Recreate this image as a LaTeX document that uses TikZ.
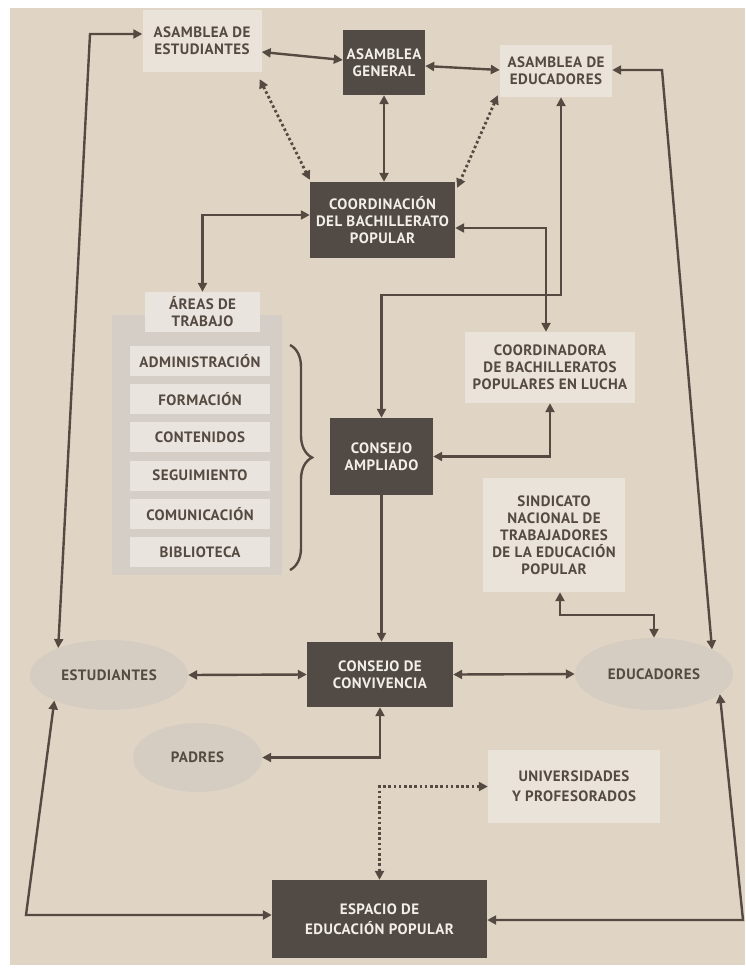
\documentclass[tikz,border=0pt]{standalone}
\usepackage{fontspec}
\setmainfont{PT Sans}[LetterSpace=3]
\usetikzlibrary{arrows.meta,calc,decorations.pathreplacing,shapes.geometric}
\definecolor{paper}{RGB}{224,213,197}
\definecolor{lightbox}{RGB}{233,227,217}
\definecolor{darkbox}{RGB}{82,74,68}
\definecolor{ink}{RGB}{84,74,65}
\definecolor{ovalfill}{RGB}{213,205,194}
\definecolor{panelfill}{RGB}{212,206,198}
\definecolor{subfill}{RGB}{233,228,221}
\definecolor{wtext}{RGB}{242,238,232}
\begin{document}
\begin{tikzpicture}[x=1pt,y=-1pt,
 >={Triangle[length=9pt,width=9pt]},
 lbl/.style={font=\bfseries\fontsize{15}{17}\selectfont, align=center, inner sep=0pt},
 lightnode/.style={lbl, rectangle, fill=lightbox, text=ink},
 darknode/.style={lbl, rectangle, fill=darkbox, text=wtext},
 oval/.style={lbl, ellipse, fill=ovalfill, text=ink},
 subnode/.style={lbl, rectangle, fill=subfill, text=ink, minimum width=140pt, minimum height=30pt},
 conn/.style={draw=ink, line width=2.4pt},
 both/.style={conn, <->},
 fwd/.style={conn, ->},
 dots/.style={draw=ink, line width=2.8pt, dash pattern=on 2.6pt off 2.6pt, <->}
]
\fill[white] (0,0) rectangle (745,971);
\fill[paper] (10,8) rectangle (745,965);
\useasboundingbox (0,0) rectangle (745,971);

% top row
\node[lightnode, minimum width=119pt, minimum height=62pt] (estA) at (202,41) {ASAMBLEA DE\\ESTUDIANTES};
\node[darknode, minimum width=82pt, minimum height=65pt] (genA) at (384,62.5) {ASAMBLEA\\GENERAL};
\node[lightnode, minimum width=112pt, minimum height=52pt] (eduA) at (556,71) {ASAMBLEA DE\\EDUCADORES};
\node[darknode, minimum width=145pt, minimum height=76pt] (coord) at (382.5,220) {COORDINACIÓN\\DEL BACHILLERATO\\POPULAR};

% areas
\node[fill=panelfill, minimum width=170pt, minimum height=260pt, inner sep=0pt] (panel) at (197,445) {};
\node[lbl, rectangle, fill=subfill, text=ink, minimum width=115pt, minimum height=40pt] (areas) at (202.5,312) {ÁREAS DE\\TRABAJO};
\node[subnode] (adm) at (200,361) {ADMINISTRACIÓN};
\node[subnode] (for) at (200,399.2) {FORMACIÓN};
\node[subnode] (con) at (200,437.4) {CONTENIDOS};
\node[subnode] (seg) at (200,475.6) {SEGUIMIENTO};
\node[subnode] (com) at (200,513.8) {COMUNICACIÓN};
\node[subnode] (bib) at (200,552) {BIBLIOTECA};
\draw[ink, line width=2.4pt, decorate, decoration={brace, amplitude=22pt, aspect=0.5}] (290,345) -- (290,570);

\node[darknode, minimum width=103pt, minimum height=77pt] (consA) at (381.5,456.5) {CONSEJO\\AMPLIADO};
\node[lightnode, minimum width=170pt, minimum height=71pt] (cbp) at (550,367.5) {COORDINADORA\\DE BACHILLERATOS\\POPULARES EN LUCHA};
\node[lightnode, minimum width=142pt, minimum height=114pt] (sind) at (554,535) {SINDICATO\\NACIONAL DE\\TRABAJADORES\\DE LA EDUCACIÓN\\POPULAR};

% middle row
\node[oval, minimum width=158pt, minimum height=70pt] (est) at (109,675) {ESTUDIANTES};
\node[darknode, minimum width=146pt, minimum height=65pt] (conv) at (380,674.5) {CONSEJO DE\\CONVIVENCIA};
\node[oval, minimum width=158pt, minimum height=72pt] (edu) at (654,674) {EDUCADORES};
\node[oval, minimum width=129pt, minimum height=69pt] (pad) at (197.5,757.5) {PADRES};
\node[lightnode, minimum width=172pt, minimum height=73pt, font=\bfseries\fontsize{15}{20}\selectfont] (univ) at (574,786.5) {UNIVERSIDADES\\Y PROFESORADOS};
\node[darknode, minimum width=215pt, minimum height=78pt, font=\bfseries\fontsize{15}{20}\selectfont] (esp) at (379.5,919) {ESPACIO DE\\EDUCACIÓN POPULAR};

% connectors top
\draw[both] ($(estA.east)+(0,11)$) -- ($(genA.west)+(0,-2.5)$);
\draw[both] ($(genA.east)+(0,3.5)$) -- ($(eduA.west)+(0,-1)$);
\draw[dots] ($(estA.south east)+(-2,7)$) -- ($(coord.north west)+(0,-2)$);
\draw[dots] ($(eduA.south west)+(-2,-2)$) -- ($(coord.north east)+(2,6)$);
\draw[both] (genA.south) -- (genA.south |- coord.north);
\draw[both] ($(coord.west)+(0,-5)$) -| (areas.north);
\draw[both] ($(coord.east)+(0,8)$) -| ($(cbp.north)+(-4,0)$);
\coordinate (h1) at (561,295);
\draw[both] (eduA.south -| h1) -- (h1) -| (consA.north);
\draw[both] (consA.east) -| (cbp.south);
\draw[fwd] (consA.south) -- (consA.south |- conv.north);

% middle connectors
\draw[both] (est.east) -- (conv.west);
\draw[both] (conv.east) -- (edu.west);
\draw[both] (conv.south) |- (pad.east);
\coordinate (n1) at (560,615);
\draw[both] (sind.south -| n1) -- (n1) -| (edu.north);
\draw[dots] (univ.west) -| (esp.north);

% outer loops
\coordinate (tl) at (90,34);
\draw[both] (estA.west |- tl) -- (tl) -- (est.152);
\coordinate (bl) at (26,915);
\draw[both] (est.205) -- (bl) -- (esp.west |- bl);
\coordinate (tr) at (662,70);
\draw[both] (eduA.east |- tr) -- (tr) -- (edu.23);
\coordinate (br) at (743,920);
\draw[both] (edu.-17) -- (br) -- (esp.east |- br);
\end{tikzpicture}
\end{document}
